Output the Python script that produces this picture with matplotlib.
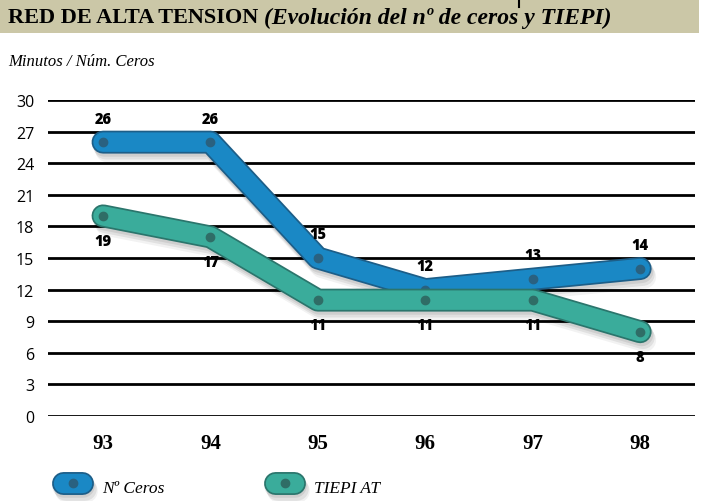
import matplotlib
matplotlib.use("Agg")
import matplotlib.pyplot as plt
import matplotlib.patheffects as pe
from matplotlib.lines import Line2D
from matplotlib.patches import Rectangle

# data
years = ['93', '94', '95', '96', '97', '98']
n_ceros = [26, 26, 15, 12, 13, 14]
tiepi_at = [19, 17, 11, 11, 11, 8]
yticks = [0, 3, 6, 9, 12, 15, 18, 21, 24, 27, 30]

blue_fill, blue_edge, blue_dot = '#1a88c5', '#1d5e88', '#2a6180'
teal_fill, teal_edge, teal_dot = '#3aac9b', '#2b756c', '#2f6d66'

def band_fx(edge):
    # soft drop shadow + dark outline
    return [pe.Stroke(offset=(1, -2), linewidth=17, foreground='k', alpha=0.08),
            pe.Stroke(offset=(2, -4), linewidth=17, foreground='k', alpha=0.07),
            pe.Stroke(offset=(3, -6), linewidth=17, foreground='k', alpha=0.05),
            pe.Stroke(linewidth=16.5, foreground=edge),
            pe.Normal()]

fig = plt.figure(figsize=(7.04, 5.02), dpi=100)
ax = fig.add_axes([48/704, 1-417/502, (695-48)/704, (417-101)/502])

x = list(range(len(years)))

# title banner
fig.add_artist(Rectangle((0, 1-34/502), 699/704, 34/502, transform=fig.transFigure,
                         facecolor='#cbc7a7', edgecolor='none'))
fig.add_artist(Line2D([519/704, 519/704], [1, 1-8/502], transform=fig.transFigure,
                      color='k', lw=1.5))
t1 = fig.text(8/704, 1-18/502, 'RED DE ALTA TENSION ', family='Liberation Serif',
              weight='bold', size=16, va='center', ha='left')
fig.canvas.draw()
bb = t1.get_window_extent()
fig.text(bb.x1/704, 1-18/502, '(Evolución del nº de ceros y TIEPI)', family='Liberation Serif',
         weight='bold', style='italic', size=17, va='center', ha='left')
fig.text(8/704, 1-62/502, 'Minutos / Núm. Ceros', family='Liberation Serif',
         style='italic', size=12, va='center', ha='left')

# bands
ax.plot(x, n_ceros, color=blue_fill, lw=14, solid_capstyle='round', solid_joinstyle='round',
        path_effects=band_fx(blue_edge), zorder=3, clip_on=False)
ax.plot(x, n_ceros, 'o', color=blue_dot, ms=6, zorder=4, clip_on=False)
ax.plot(x, tiepi_at, color=teal_fill, lw=14, solid_capstyle='round', solid_joinstyle='round',
        path_effects=band_fx(teal_edge), zorder=5, clip_on=False)
ax.plot(x, tiepi_at, 'o', color=teal_dot, ms=6, zorder=6, clip_on=False)

for xi, v in zip(x, n_ceros):
    ax.annotate(str(v), (xi, v), xytext=(0, 17), textcoords='offset points', ha='center',
                va='center', family='Open Sans', weight='heavy', size=10.5, zorder=8)
for xi, v in zip(x, tiepi_at):
    ax.annotate(str(v), (xi, v), xytext=(0, -18), textcoords='offset points', ha='center',
                va='center', family='Open Sans', weight='heavy', size=10.5, zorder=8)

ax.set_xlim(-0.512, 5.51)
ax.set_ylim(0, 30)
ax.set_yticks(yticks)
ax.set_xticks(x)
ax.set_xticklabels(years, family='Liberation Serif', weight='bold', size=15)
for lab in ax.get_yticklabels():
    lab.set_family('Open Sans')
    lab.set_size(11.5)
ax.tick_params(length=0)
ax.tick_params(axis='y', pad=10)
ax.tick_params(axis='x', pad=12)
ax.grid(axis='y', color='k', lw=2)
ax.grid(axis='x', visible=False)
ax.set_axisbelow(True)
for s in ax.spines.values():
    s.set_visible(False)

# legend drawn by hand at the bottom
for x0, fill, edge, dot, label in [(63, blue_fill, blue_edge, blue_dot, 'Nº Ceros'),
                                   (275, teal_fill, teal_edge, teal_dot, 'TIEPI AT')]:
    yy = 1 - 484/502
    fig.add_artist(Line2D([x0/704, (x0+19)/704], [yy, yy], transform=fig.transFigure,
                          color=fill, lw=14, solid_capstyle='round',
                          path_effects=band_fx(edge)))
    fig.add_artist(Line2D([(x0+9.5)/704], [yy], transform=fig.transFigure, marker='o',
                          color=dot, ms=6, ls='none'))
    fig.text((x0+39)/704, 1-489/502, label, family='Liberation Serif', style='italic',
             size=12.5, va='center', ha='left')

fig.savefig('out.png', dpi=100)
